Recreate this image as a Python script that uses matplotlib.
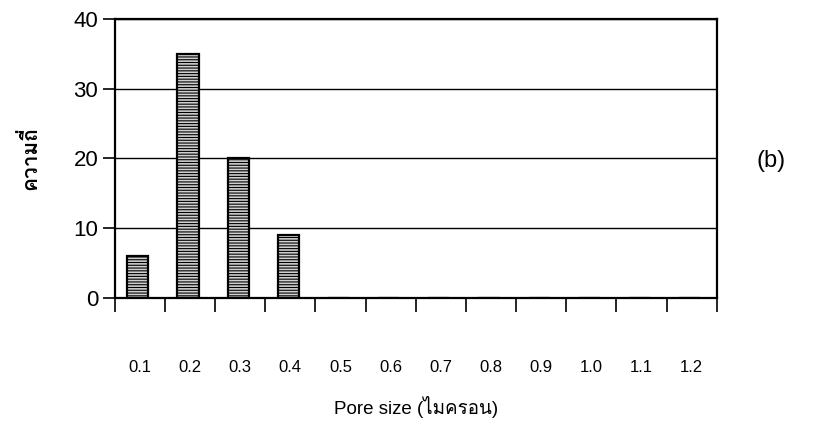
import numpy as np
import matplotlib.pyplot as plt
from matplotlib import font_manager
from matplotlib.ft2font import FT2Font

# pore size distribution, panel (b)
pore_sizes = ['0.1', '0.2', '0.3', '0.4', '0.5', '0.6', '0.7', '0.8', '0.9', '1.0', '1.1', '1.2']
frequency = [6, 35, 20, 9, 0, 0, 0, 0, 0, 0, 0, 0]
y_ticks = [0, 10, 20, 30, 40]


def find_thai_family():
    # look for any installed font that actually has Thai glyphs
    for f in font_manager.fontManager.ttflist:
        try:
            cmap = FT2Font(f.fname).get_charmap()
        except Exception:
            continue
        if ord('ค') in cmap and ord('ไ') in cmap:
            return f.name
    return None


thai = find_thai_family()
fams = ['Liberation Sans'] + ([thai] if thai else []) + ['DejaVu Sans']
plt.rcParams['font.family'] = fams

fig = plt.figure(figsize=(8.2, 4.28), dpi=100)
ax = fig.add_axes([0.140, 0.304, 0.734, 0.652])

plt.rcParams['hatch.color'] = '#555555'
plt.rcParams['hatch.linewidth'] = 0.8
xs = np.arange(len(pore_sizes))
ax.bar(xs - 0.04, frequency, 0.42, color='#d0d0d0', edgecolor='black',
       linewidth=1.6, hatch='------', zorder=3)

ax.set_xlim(-0.5, len(pore_sizes) - 0.5)
ax.set_ylim(0, 40)
ax.set_yticks(y_ticks)
ax.tick_params(axis='y', direction='out', length=9, width=1.2, labelsize=16, pad=3)
ax.yaxis.grid(True, color='black', linewidth=1.0, zorder=0)

ax.set_xticks(xs)
ax.set_xticklabels(pore_sizes)
ax.set_xticks(np.arange(len(pore_sizes) + 1) - 0.5, minor=True)
ax.tick_params(axis='x', which='major', length=0, labelsize=12, pad=45)
ax.tick_params(axis='x', which='minor', direction='out', length=10, width=1.2)

for s in ax.spines.values():
    s.set_linewidth(1.6)
    s.set_color('black')

ax.set_xlabel('Pore size (ไมครอน)', fontsize=13.5, labelpad=15)
ax.set_ylabel('ความถี่', fontsize=15, fontweight='bold', labelpad=24)

fig.text(0.94, 0.625, '(b)', fontsize=17, ha='center', va='center')

fig.savefig('out.png', dpi=100)
